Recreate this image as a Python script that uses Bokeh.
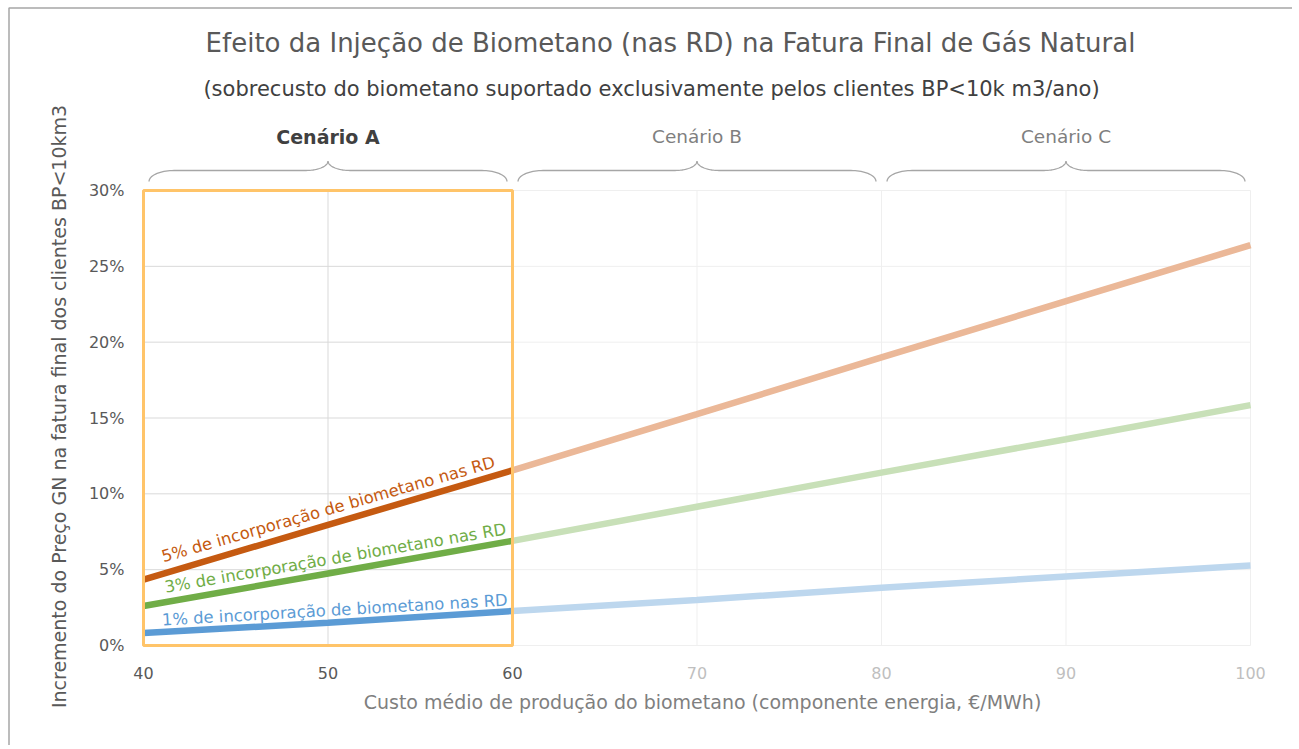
import numpy as np
from bokeh.plotting import figure
from bokeh.models import Range1d, Label, LabelSet, ColumnDataSource
from bokeh.core.properties import value
from bokeh.embed import file_html
from bokeh.resources import INLINE

# ---------------- data ----------------
x_cost = [40, 50, 60, 70, 80, 90, 100]
pct_5 = [4.35, 7.95, 11.55, 15.25, 19.0, 22.7, 26.4]
pct_3 = [2.6, 4.75, 6.9, 9.15, 11.4, 13.6, 15.85]
pct_1 = [0.82, 1.5, 2.27, 3.0, 3.8, 4.55, 5.28]
series_labels = ["5% de incorporação de biometano nas RD",
                 "3% de incorporação de biometano nas RD",
                 "1% de incorporação de biometano nas RD"]
x_ticks = [40, 50, 60, 70, 80, 90, 100]
y_ticks = [0.0, 0.05, 0.10, 0.15, 0.20, 0.25, 0.30]
scenarios = ["Cenário A", "Cenário B", "Cenário C"]
scen_start = [40, 60, 80]
scen_end = [60, 80, 100]
highlight_end = 60

title = "Efeito da Injeção de Biometano (nas RD) na Fatura Final de Gás Natural"
subtitle = "(sobrecusto do biometano suportado exclusivamente pelos clientes BP<10k m3/ano)"
x_label = "Custo médio de produção do biometano (componente energia, €/MWh)"
y_label = "Incremento do Preço GN na fatura final dos clientes BP<10km3"

# ---------------- layout (whole canvas is the plotting frame) ----------------
W, H = 1292, 745
PXX = 1107 / 60.0          # px per x unit
PXY = 455 / 0.30           # px per y unit
X40_PX, Y0_PX = 143, 645   # canvas position of x=40, y=0
x0 = 40 - X40_PX / PXX
x1 = x0 + W / PXX
y0 = -(H - Y0_PX) / PXY
y1 = y0 + H / PXY

def dx(cx):  # canvas px -> data x
    return x0 + cx / PXX

def dy(cy):  # canvas px -> data y
    return y0 + (H - cy) / PXY

FONT = "DejaVu Sans"
DARK = ["#C55A11", "#70AD47", "#5B9BD5"]
LIGHT = ["#EBB898", "#C8E0B8", "#BDD7EE"]

p = figure(width=W, height=H, output_backend="svg", toolbar_location=None,
           x_range=Range1d(x0, x1), y_range=Range1d(y0, y1),
           min_border=0, title=None)
p.outline_line_color = None
p.axis.visible = False
p.grid.visible = False
p.border_fill_color = "white"

# chart-area border (top / left visible)
p.line([dx(8.5), dx(8.5), dx(W)], [dy(H), dy(7.5), dy(7.5)],
       line_color="#A6A6A6", line_width=1.5)

# gridlines
xs = np.array(x_ticks, dtype=float)
ys = np.array(y_ticks, dtype=float)
p.segment(x0=[x_ticks[0]] * len(ys), y0=ys, x1=[highlight_end] * len(ys), y1=ys,
          line_color="#D9D9D9", line_width=1)
p.segment(x0=[highlight_end] * len(ys), y0=ys, x1=[x_ticks[-1]] * len(ys), y1=ys,
          line_color="#EFEFEF", line_width=1)
gcol = ["#D9D9D9" if v <= highlight_end else "#EFEFEF" for v in xs]
p.segment(x0=xs, y0=[0] * len(xs), x1=xs, y1=[ys[-1]] * len(xs),
          line_color=gcol, line_width=1)

# series lines
xa = np.array(x_cost, dtype=float)
inside = xa <= highlight_end
outside = xa >= highlight_end
all_series = [np.array(pct_5) / 100, np.array(pct_3) / 100, np.array(pct_1) / 100]
for s, cd, cl in zip(all_series, DARK, LIGHT):
    p.line(xa[outside], s[outside], line_color=cl, line_width=6.5)
    p.line(xa[inside], s[inside], line_color=cd, line_width=6.5)

# highlight box
p.quad(left=[scen_start[0]], right=[scen_end[0]], bottom=[0], top=[y_ticks[-1]],
       fill_color=None, line_color="#FFC469", line_width=3)

# series text labels along the lines
lab_x = [41.0, 41.15, 41.0]
gaps = [17, 15, 12]
for s, txt, c, lx, g in zip(all_series, series_labels, DARK, lab_x, gaps):
    ly = np.interp(lx, xa, s)
    slope_px = (s[inside][-1] - s[0]) * PXY / ((xa[inside][-1] - xa[0]) * PXX)
    ang = float(np.arctan(slope_px)) * 0.97
    p.add_layout(Label(x=lx, y=float(ly + g / PXY), text=txt, angle=ang,
                       text_font=FONT, text_font_size="16.4px",
                       text_color=c, text_align="left", text_baseline="alphabetic"))

# y tick labels
ysrc = ColumnDataSource(dict(x=[dx(124)] * len(y_ticks), y=y_ticks,
                             t=["%d%%" % round(v * 100) for v in y_ticks]))
p.add_layout(LabelSet(x="x", y="y", text="t", source=ysrc, text_color="#595959",
                      text_font=value(FONT), text_font_size="16px",
                      text_align="right", text_baseline="middle"))

# x tick labels
tick_col = ["#595959" if v <= highlight_end else "#BFBFBF" for v in x_ticks]
tsrc = ColumnDataSource(dict(x=x_ticks, y=[dy(672)] * len(x_ticks),
                             t=[str(v) for v in x_ticks], c=tick_col))
p.add_layout(LabelSet(x="x", y="y", text="t", source=tsrc, text_color="c",
                      text_font=value(FONT), text_font_size="16px",
                      text_align="center", text_baseline="middle"))

# braces + scenario labels
def brace(a, b, yb, yf, yc, r_end, r_mid):
    m = (a + b) / 2
    t = np.linspace(0, np.pi / 2, 20)
    xl = a + r_end * (1 - np.cos(t)); yl = yb + (yf - yb) * np.sin(t)
    xm = m - r_mid + r_mid * np.sin(t); ym = yf + (yc - yf) * (1 - np.cos(t))
    xr_ = m + r_mid - r_mid * np.sin(t[::-1]); yr_ = ym[::-1]
    xe = b - r_end * (1 - np.cos(t[::-1])); ye = yl[::-1]
    return (np.concatenate([xl, xm, xr_, xe]), np.concatenate([yl, ym, yr_, ye]))

yb, yf, yc = dy(181), dy(170), dy(160.5)
for i, (nm, a, b) in enumerate(zip(scenarios, scen_start, scen_end)):
    bx, by = brace(a + 0.3, b - 0.3, yb, yf, yc, 25 / PXX, 22 / PXX)
    p.line(bx, by, line_color="#A6A6A6", line_width=1.3)
    p.add_layout(Label(x=(a + b) / 2, y=dy(136), text=nm, text_font=FONT,
                       text_font_size="19px" if i == 0 else "18.5px",
                       text_font_style="bold" if i == 0 else "normal",
                       text_color="#404040" if i == 0 else "#7F7F7F",
                       text_align="center", text_baseline="middle"))

# titles and axis labels
p.add_layout(Label(x=dx(670), y=dy(42), text=title, text_font=FONT,
                   text_font_size="26px", text_color="#595959",
                   text_align="center", text_baseline="middle"))
p.add_layout(Label(x=dx(651), y=dy(88), text=subtitle, text_font=FONT,
                   text_font_size="21px", text_color="#404040",
                   text_align="center", text_baseline="middle"))
p.add_layout(Label(x=dx(702), y=dy(701), text=x_label, text_font=FONT,
                   text_font_size="19px", text_color="#7F7F7F",
                   text_align="center", text_baseline="middle"))
p.add_layout(Label(x=dx(58), y=dy(406), text=y_label, angle=float(np.pi / 2),
                   text_font=FONT, text_font_size="19px", text_color="#595959",
                   text_align="center", text_baseline="middle"))

open("out.html", "w").write(file_html(p, INLINE))
